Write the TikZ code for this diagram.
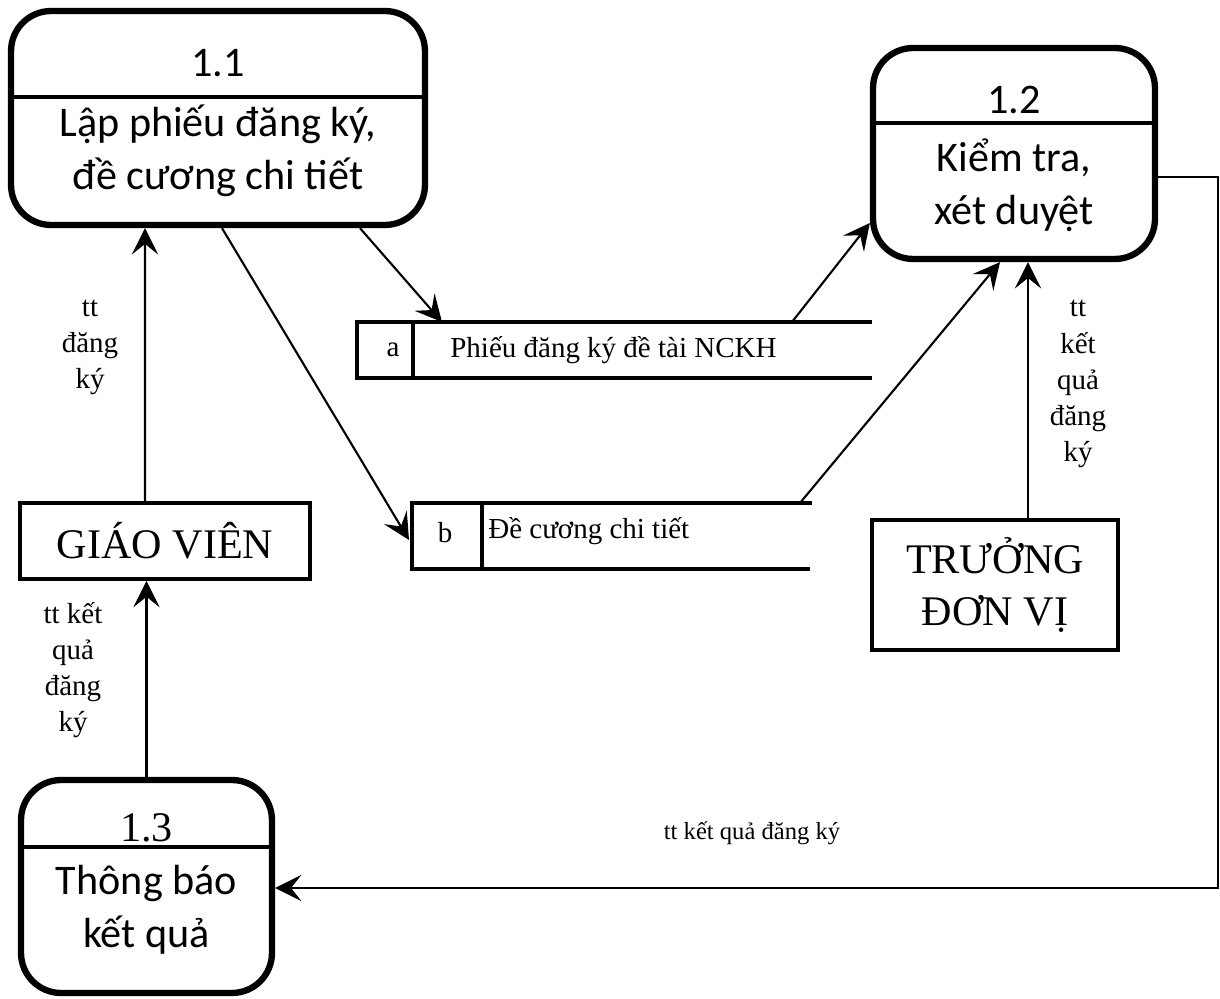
\documentclass[tikz,border=0pt]{standalone}
\usepackage{fontspec}
\setmainfont{Liberation Serif}
\newfontfamily\calibri{Carlito}
\usepackage{tikz}
\usetikzlibrary{arrows.meta}

\begin{document}
\begin{tikzpicture} [
    x=0.02cm, y=-0.02cm,
    process/.style = {draw, line width=3.6pt, rounded corners=0.8cm, inner sep=0pt},
    divider/.style = {line width=2.2pt},
    proctext/.style = {font=\calibri\fontsize{24}{30}\selectfont, align=center, inner sep=0pt},
    entity/.style = {draw, line width=2.2pt, inner sep=0pt, align=center,
        font=\fontsize{24}{29.5}\selectfont},
    store/.style = {line width=2.2pt},
    storetext/.style = {font=\fontsize{16.5}{19}\selectfont, inner sep=0pt},
    flow/.style = {line width=1.2pt, -{Stealth[length=15pt, width=15pt, inset=6pt]}},
    flowlabel/.style = {font=\fontsize{16.5}{20.5}\selectfont, align=center, inner sep=0pt}
]
    \useasboundingbox (0,0) rectangle (1220,999);

    % processes
    \node[process, minimum width=8.28cm, minimum height=4.28cm] (p11) at (218,118) {};
    \draw[divider] (11,97) -- (425,97);
    \node[proctext] (p11num) at (218,63) {1.1};
    \node[proctext] (p11name) at (218,151) {Lập phiếu đăng ký,\\đề cương chi tiết};

    \node[process, minimum width=5.64cm, minimum height=4.22cm] (p12) at (1014,153.5) {};
    \draw[divider] (873,123) -- (1155,123);
    \node[proctext] (p12num) at (1014,100) {1.2};
    \node[proctext] (p12name) at (1014,185) {Kiểm tra,\\xét duyệt};

    \node[process, minimum width=5.02cm, minimum height=4.26cm] (p13) at (146.5,886.5) {};
    \draw[divider] (21,847) -- (272,847);
    \node[inner sep=0pt, font=\fontsize{24}{29}\selectfont] (p13num) at (146.5,828) {1.3};
    \node[proctext] (p13name) at (146.5,910) {Thông báo\\kết quả};

    % external entities
    \node[entity, minimum width=5.8cm, minimum height=1.52cm] (gv) at (165,541) {GIÁO VIÊN};
    \node[entity, minimum width=4.92cm, minimum height=2.6cm] (tdv) at (995,585) {TRƯỞNG\\ĐƠN VỊ};

    % data stores
    \draw[store] (872,322) -- (357,322) -- (357,378) -- (872,378);
    \draw[store] (413,322) -- (413,378);
    \node[storetext] (sa) at (393,350) {a};
    \node[storetext, anchor=west] (saname) at (450,350) {Phiếu đăng ký đề tài NCKH};

    \draw[store] (812,503) -- (412,503) -- (412,569) -- (810,569);
    \draw[store] (482,503) -- (482,569);
    \node[storetext] (sb) at (445,533) {b};
    \node[storetext, anchor=west] (sbname) at (488,531) {Đề cương chi tiết};

    \coordinate (saIn) at (442,322);
    \coordinate (saOut) at (792,322);
    \coordinate (sbIn) at (409,540);
    \coordinate (sbOut) at (800,503);
    \coordinate (turn) at (1218,888);

    % flows
    \draw[flow] ([xshift=-0.4cm]gv.north) -- ([xshift=-1.46cm]p11.south);
    \draw[flow] (p13.north) -- (p13.north |- gv.south);
    \draw[flow] ([xshift=2.84cm]p11.south) -- (saIn);
    \draw[flow] ([xshift=0.08cm]p11.south) -- (sbIn);
    \draw[flow] (saOut) -- ([yshift=-1.39cm]p12.west);
    \draw[flow] (sbOut) -- ([xshift=-0.28cm]p12.south);
    \draw[flow] ([xshift=0.66cm]tdv.north) -- ([xshift=0.66cm]tdv.north |- p12.south);
    \draw[flow, line width=1pt] ([yshift=-0.47cm]p12.east) -| (turn) -- (turn -| p13.east);

    % labels
    \node[flowlabel] (l1) at (90,347) {tt\\đăng\\ký};
    \node[flowlabel] (l2) at (73,670) {tt kết\\quả\\đăng\\ký};
    \node[flowlabel] (l3) at (1078,384) {tt\\kết\\quả\\đăng\\ký};
    \node[flowlabel, font=\fontsize{14}{17}\selectfont] (l4) at (752,833) {tt kết quả đăng ký};
\end{tikzpicture}
\end{document}
